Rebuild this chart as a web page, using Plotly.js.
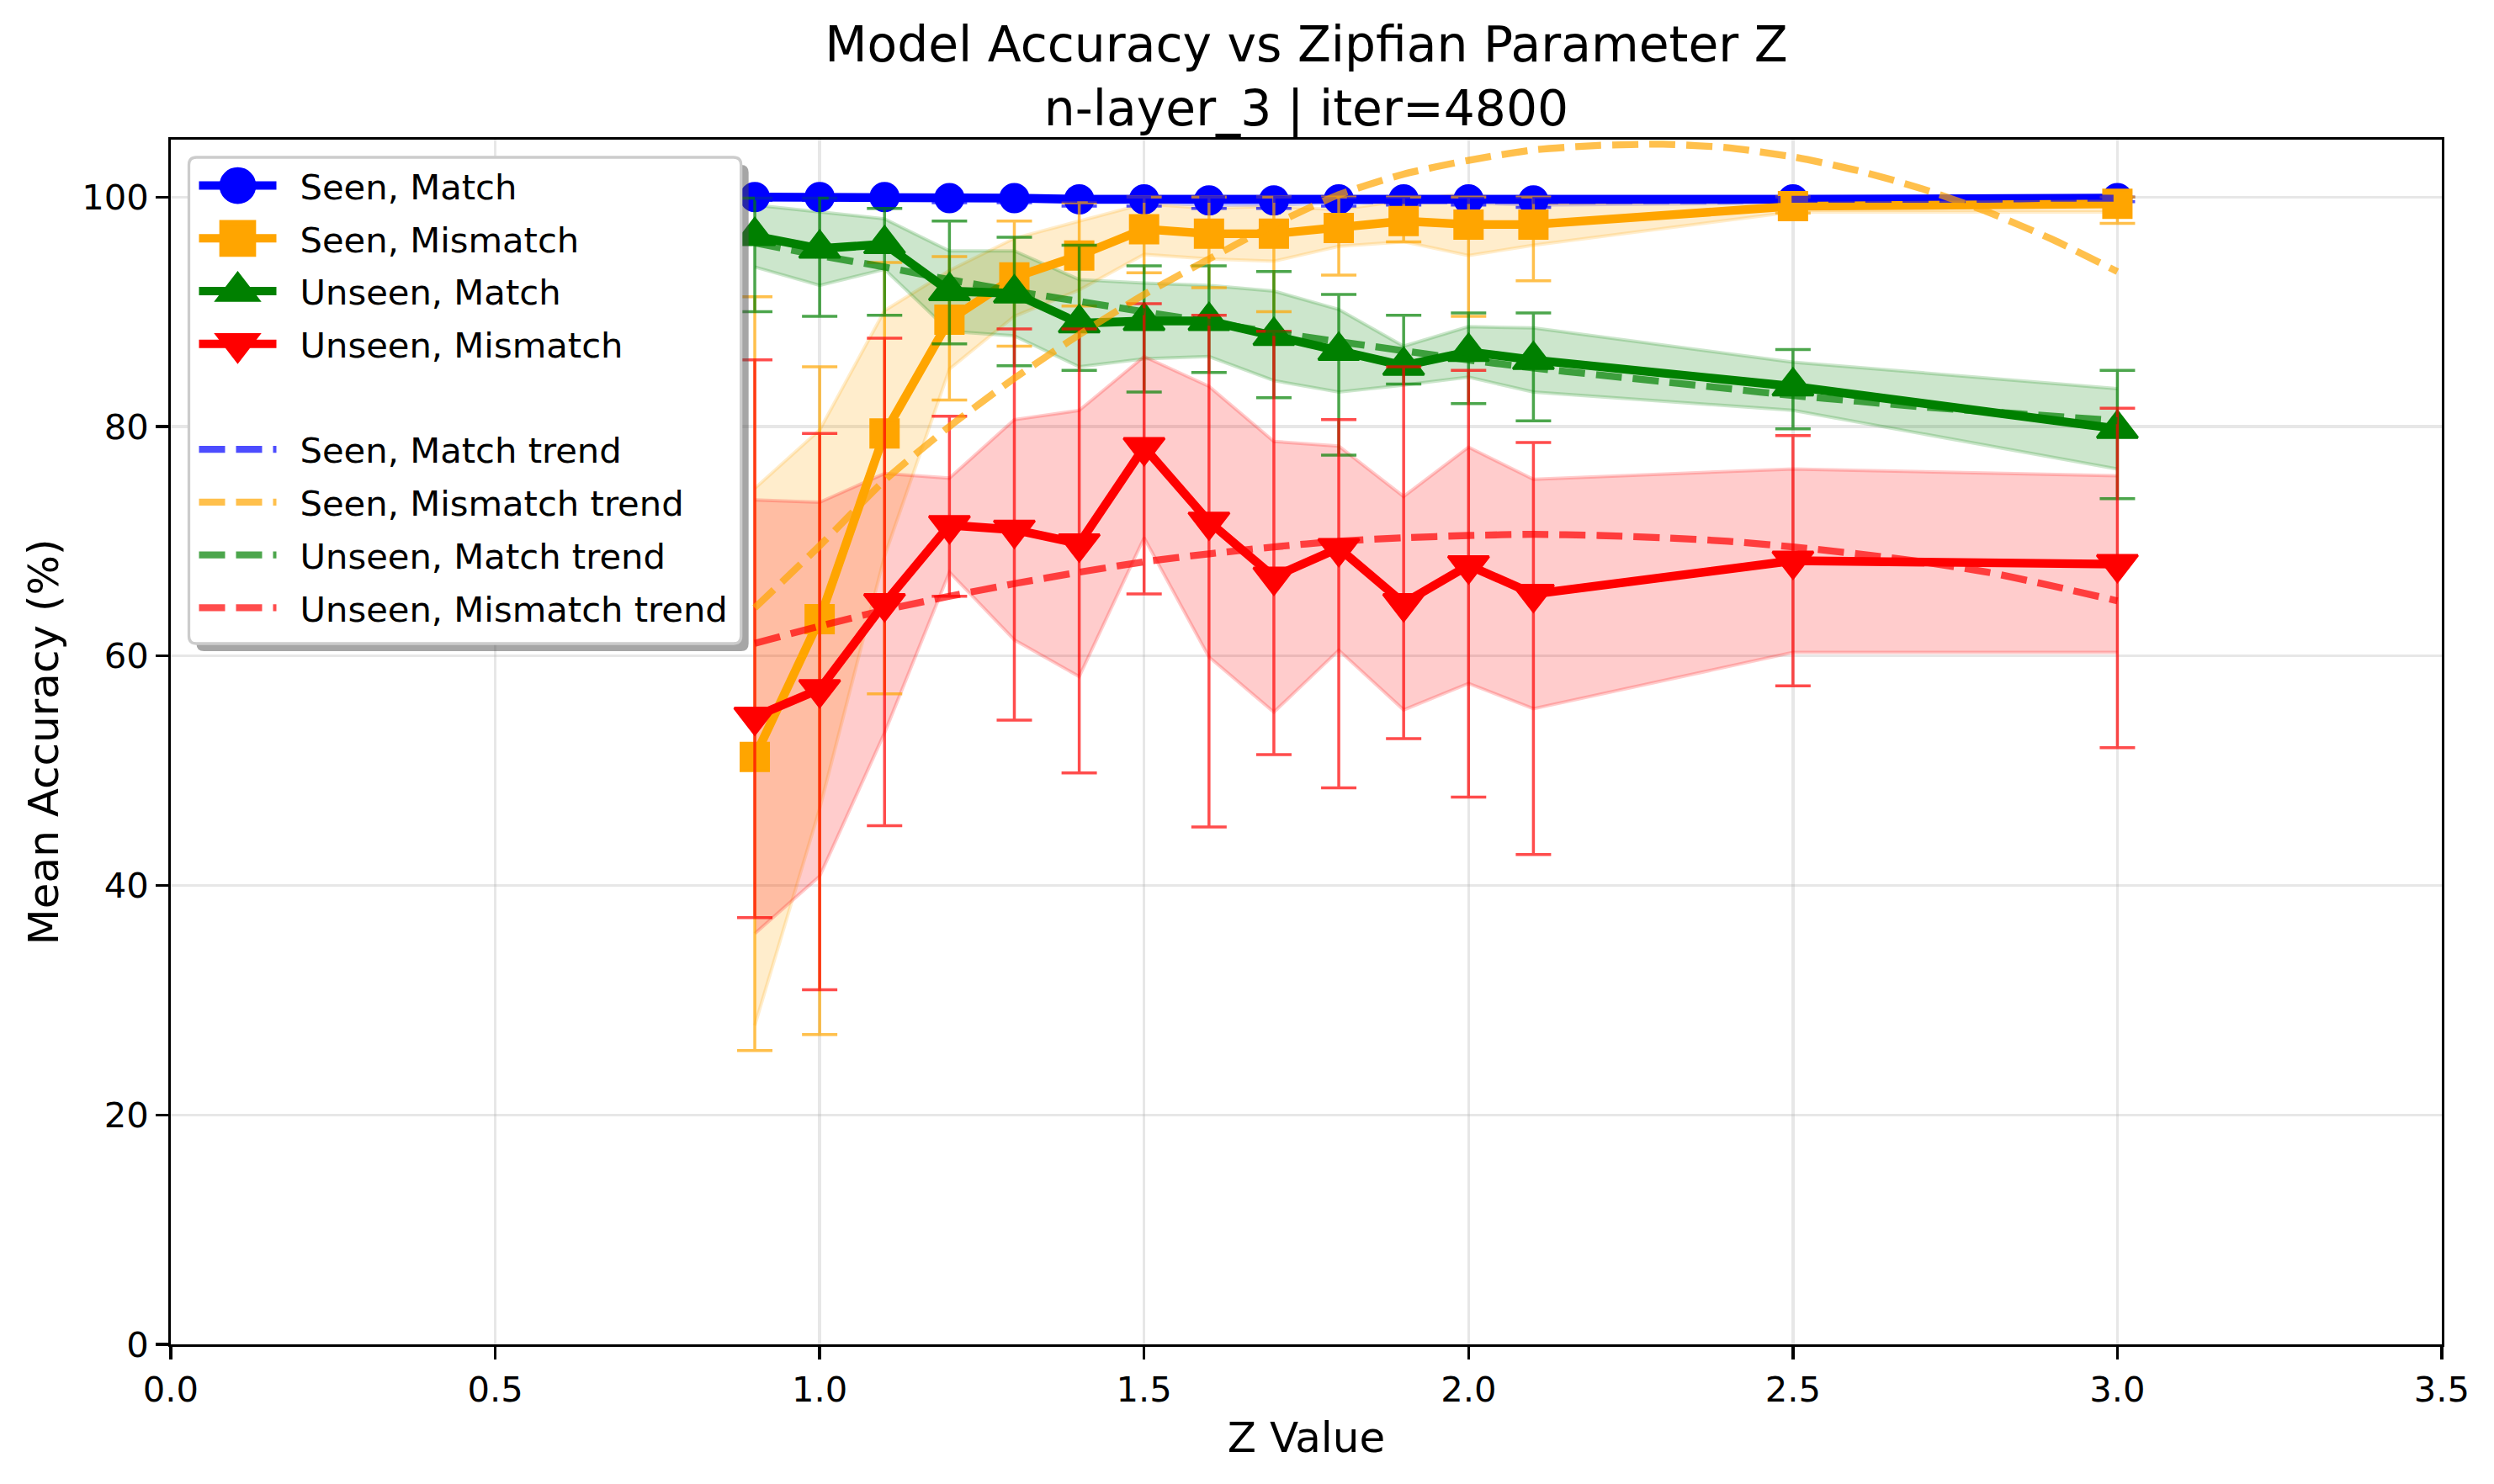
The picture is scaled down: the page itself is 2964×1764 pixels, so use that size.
<!DOCTYPE html>
<html><head><meta charset="utf-8">
<script src="https://cdn.plot.ly/plotly-3.0.1.min.js"></script>
<style>html,body{margin:0;padding:0;background:#fff;}#chart{width:2964px;height:1764px;}</style>
</head><body><div id="chart"></div>
<script>
// ---------------- data ----------------
const zValues = [0.9, 1.0, 1.1, 1.2, 1.3, 1.4, 1.5, 1.6, 1.7, 1.8, 1.9, 2.0, 2.1, 2.5, 3.0];

const seenMatchMean = [100.0, 100.0, 100.0, 99.9, 99.9, 99.8, 99.8, 99.7, 99.7, 99.8, 99.8, 99.8, 99.7, 99.8, 99.9];
const seenMatchStd  = [0.1, 0.1, 0.1, 0.2, 0.2, 0.3, 0.3, 0.4, 0.4, 0.3, 0.3, 0.3, 0.4, 0.3, 0.2];
const seenMatchMin  = [99.7, 99.7, 99.8, 99.5, 99.5, 99.2, 99.2, 99.0, 99.0, 99.2, 99.3, 99.3, 99.1, 99.3, 99.6];
const seenMatchMax  = [100, 100, 100, 100, 100, 100, 100, 100, 100, 100, 100, 100, 100, 100, 100];

const seenMismatchMean = [51.2, 63.2, 79.4, 89.3, 93.0, 94.9, 97.2, 96.8, 96.8, 97.3, 97.9, 97.6, 97.6, 99.2, 99.4];
const seenMismatchStd  = [23.4, 16.5, 10.7, 4.3, 3.4, 3.0, 2.2, 2.2, 2.4, 1.6, 1.8, 2.7, 1.8, 0.5, 0.7];
const seenMismatchMin  = [25.6, 27.0, 56.7, 82.3, 87.0, 90.5, 93.4, 92.1, 90.0, 93.2, 96.1, 89.6, 92.7, 98.6, 97.7];
const seenMismatchMax  = [91.3, 85.2, 94.3, 94.8, 97.9, 99.5, 100, 100, 100, 100, 100, 100, 100, 100, 100];

const unseenMatchMean = [96.6, 95.5, 95.9, 91.8, 91.6, 89.0, 89.2, 89.2, 87.9, 86.6, 85.3, 86.5, 85.8, 83.5, 79.8];
const unseenMatchStd  = [2.7, 3.2, 2.2, 3.5, 3.7, 3.8, 3.3, 3.1, 3.9, 3.6, 1.7, 2.2, 2.8, 2.1, 3.5];
const unseenMatchMin  = [90.0, 89.6, 89.7, 87.2, 85.3, 84.9, 83.0, 84.7, 82.5, 77.5, 83.7, 82.0, 80.5, 79.8, 73.7];
const unseenMatchMax  = [99.9, 99.9, 99.0, 97.9, 96.5, 95.8, 94.0, 94.0, 93.5, 91.5, 89.7, 89.9, 89.9, 86.7, 84.9];

const unseenMismatchMean = [54.7, 57.1, 64.6, 71.4, 71.0, 69.8, 78.2, 71.7, 66.9, 69.4, 64.6, 67.9, 65.4, 68.3, 68.0];
const unseenMismatchStd  = [18.9, 16.3, 11.3, 4.1, 9.6, 11.6, 7.9, 11.8, 11.8, 8.9, 9.3, 10.3, 10.0, 8.0, 7.7];
const unseenMismatchMin  = [37.2, 30.9, 45.2, 65.2, 54.4, 49.8, 65.4, 45.1, 51.4, 48.5, 52.8, 47.7, 42.7, 57.4, 52.0];
const unseenMismatchMax  = [85.8, 79.4, 87.7, 80.9, 88.5, 88.5, 90.7, 89.7, 88.3, 80.6, 85.2, 84.9, 78.6, 79.2, 81.6];

// trend curves
const trendZ = [0.9, 1.0, 1.1, 1.2, 1.3, 1.4, 1.5, 1.6, 1.7, 1.8, 1.9, 2.0, 2.1, 2.2, 2.3, 2.4, 2.5, 2.6, 2.7, 2.8, 2.9, 3.0];
const seenMatchTrend      = [100.0, 100.0, 99.9, 99.9, 99.9, 99.8, 99.8, 99.8, 99.8, 99.7, 99.7, 99.7, 99.7, 99.7, 99.7, 99.7, 99.8, 99.8, 99.8, 99.8, 99.9, 99.9];
const seenMismatchTrend   = [64.2, 69.6, 75.3, 80.0, 84.2, 88.0, 91.5, 94.6, 97.6, 100.2, 102.0, 103.2, 104.1, 104.5, 104.6, 104.3, 103.5, 102.3, 100.7, 98.7, 96.3, 93.5];
const unseenMatchTrend    = [96.0, 94.9, 93.9, 92.8, 91.8, 90.9, 90.0, 89.1, 88.2, 87.4, 86.6, 85.8, 85.1, 84.5, 83.9, 83.3, 82.7, 82.2, 81.7, 81.3, 80.9, 80.5];
const unseenMismatchTrend = [61.1, 62.6, 64.0, 65.2, 66.3, 67.3, 68.2, 68.9, 69.5, 70.0, 70.3, 70.5, 70.6, 70.5, 70.3, 70.0, 69.5, 68.9, 68.2, 67.3, 66.1, 64.8];

const seriesNames = ['Seen, Match', 'Seen, Mismatch', 'Unseen, Match', 'Unseen, Mismatch'];
const xTickVals = [0, 0.5, 1.0, 1.5, 2.0, 2.5, 3.0, 3.5];
const yTickVals = [0, 20, 40, 60, 80, 100];

// ---------------- styling ----------------
const FONT = 'DejaVu Sans, Liberation Sans, sans-serif';
const W = 2964, H = 1764;
const PL = 203, PR = 2902.5, PT = 166, PB = 1598;
const px2paperX = p => (p - PL) / (PR - PL);
const px2paperY = p => (PB - p) / (PB - PT);

const series = [
  {name: seriesNames[0], mean: seenMatchMean, std: seenMatchStd, min: seenMatchMin, max: seenMatchMax, trend: seenMatchTrend, rgb: '0,0,255', symbol: 'circle', size: 33},
  {name: seriesNames[1], mean: seenMismatchMean, std: seenMismatchStd, min: seenMismatchMin, max: seenMismatchMax, trend: seenMismatchTrend, rgb: '255,165,0', symbol: 'square', size: 33},
  {name: seriesNames[2], mean: unseenMatchMean, std: unseenMatchStd, min: unseenMatchMin, max: unseenMatchMax, trend: unseenMatchTrend, rgb: '0,128,0', symbol: 'triangle-up', size: 42},
  {name: seriesNames[3], mean: unseenMismatchMean, std: unseenMismatchStd, min: unseenMismatchMin, max: unseenMismatchMax, trend: unseenMismatchTrend, rgb: '255,0,0', symbol: 'triangle-down', size: 42}
];

const traces = [];
// std bands
series.forEach(s => {
  const lower = s.mean.map((m, i) => m - s.std[i]);
  const upper = s.mean.map((m, i) => m + s.std[i]);
  traces.push({x: zValues, y: lower, type: 'scatter', mode: 'lines', showlegend: false, hoverinfo: 'skip',
    line: {color: `rgba(${s.rgb},0.2)`, width: 4}});
  traces.push({x: zValues, y: upper, type: 'scatter', mode: 'lines', showlegend: false, hoverinfo: 'skip',
    fill: 'tonexty', fillcolor: `rgba(${s.rgb},0.2)`, line: {color: `rgba(${s.rgb},0.2)`, width: 4}});
});
// main series with min/max error bars
series.forEach((s, k) => {
  traces.push({x: zValues, y: s.mean, type: 'scatter', mode: 'lines+markers', name: s.name, legendgroup: 'm' + k,
    line: {color: `rgb(${s.rgb})`, width: 10.4},
    marker: {symbol: s.symbol, size: s.size, color: `rgb(${s.rgb})`, line: {color: `rgb(${s.rgb})`, width: 3}},
    error_y: {type: 'data', symmetric: false,
      array: s.max.map((v, i) => v - s.mean[i]),
      arrayminus: s.mean.map((m, i) => m - s.min[i]),
      color: `rgba(${s.rgb},0.7)`, thickness: 3.5, width: 21}});
});
// blank spacer entry in legend
traces.push({x: [-10], y: [-10], type: 'scatter', mode: 'lines', name: ' ', legendgroup: 'spacer',
  line: {color: 'rgba(0,0,0,0)', width: 1}, hoverinfo: 'skip'});
// trend lines
series.forEach((s, k) => {
  traces.push({x: trendZ, y: s.trend, type: 'scatter', mode: 'lines', name: s.name + ' trend', legendgroup: 't' + k,
    line: {color: `rgba(${s.rgb},0.7)`, width: 8.3, dash: '31px,13px', shape: 'spline', smoothing: 0.6}});
});

function roundRectPath(x0, y0, x1, y1, r) {
  const X = p => px2paperX(p).toFixed(6), Y = p => px2paperY(p).toFixed(6);
  return `M${X(x0 + r)},${Y(y0)} L${X(x1 - r)},${Y(y0)} Q${X(x1)},${Y(y0)} ${X(x1)},${Y(y0 + r)} ` +
    `L${X(x1)},${Y(y1 - r)} Q${X(x1)},${Y(y1)} ${X(x1 - r)},${Y(y1)} L${X(x0 + r)},${Y(y1)} ` +
    `Q${X(x0)},${Y(y1)} ${X(x0)},${Y(y1 - r)} L${X(x0)},${Y(y0 + r)} Q${X(x0)},${Y(y0)} ${X(x0 + r)},${Y(y0)} Z`;
}
const LF = {x0: 224.5, y0: 187, x1: 880.8, y1: 765};

const axisCommon = {
  showline: true, linecolor: '#000', linewidth: 3.3, mirror: true,
  ticks: 'outside', ticklen: 14.6, tickwidth: 3.3, tickcolor: '#000',
  showgrid: true, gridcolor: 'rgba(176,176,176,0.3)', gridwidth: 3.3, zeroline: false,
  tickfont: {family: FONT, size: 41.7, color: '#000'}
};

const layout = {
  width: W, height: H,
  margin: {l: PL, r: W - PR, t: PT, b: H - PB, pad: 0},
  paper_bgcolor: '#fff', plot_bgcolor: '#fff',
  font: {family: FONT, color: '#000'},
  title: {text: 'Model Accuracy vs Zipfian Parameter Z<br>n-layer_3 | iter=4800',
    font: {family: FONT, size: 58.3, color: '#000', lineposition: 'none'}, x: 0.5, xref: 'paper', xanchor: 'center',
    y: 1 - 73 / H, yref: 'container', yanchor: 'middle'},
  xaxis: Object.assign({}, axisCommon, {range: [0, 3.5], tickvals: xTickVals, tickformat: '.1f',
    title: {text: 'Z Value', font: {family: FONT, size: 50, color: '#000'}, standoff: 17}}),
  yaxis: Object.assign({}, axisCommon, {range: [0, 105], tickvals: yTickVals,
    title: {text: 'Mean Accuracy (%)', font: {family: FONT, size: 50, color: '#000'}, standoff: 12}}),
  showlegend: true,
  legend: {x: px2paperX(LF.x0), y: px2paperY(LF.y0), xanchor: 'left', yanchor: 'top',
    bgcolor: 'rgba(0,0,0,0)', borderwidth: 0, font: {family: FONT, size: 41.7, color: '#000'},
    tracegroupgap: 5.5, itemwidth: 122, traceorder: 'grouped'},
  shapes: [
    {type: 'path', xref: 'paper', yref: 'paper', layer: 'above', path: roundRectPath(LF.x0 + 9, LF.y0 + 9, LF.x1 + 9, LF.y1 + 9, 9),
      fillcolor: 'rgba(77,77,77,0.5)', line: {width: 0}},
    {type: 'path', xref: 'paper', yref: 'paper', layer: 'above', path: roundRectPath(LF.x0, LF.y0, LF.x1, LF.y1, 9),
      fillcolor: '#fff', line: {color: '#cccccc', width: 3.3}}
  ]
};

Plotly.newPlot('chart', traces, layout, {staticPlot: true}).then(gd => {
  gd.querySelectorAll('.legend .traces').forEach(it => {
    it.querySelectorAll('path.js-line').forEach(p => p.setAttribute('d', 'M12,0h92'));
    it.querySelectorAll('.legendpoints path.scatterpts').forEach(p => p.setAttribute('transform', 'translate(58,0) scale(2.3)'));
  });
});
</script>
</body></html>
